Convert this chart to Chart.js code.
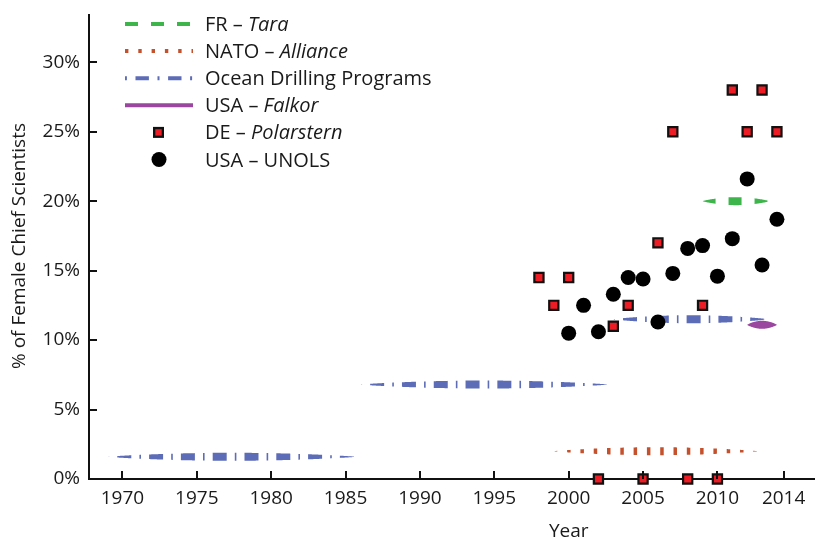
<!DOCTYPE html>
<html>
<head>
<meta charset="utf-8">
<script src="https://cdn.jsdelivr.net/npm/chart.js@4.4.1/dist/chart.umd.min.js"></script>
<style>
  html, body { margin: 0; padding: 0; background: #fff; }
  #wrap { width: 815px; height: 540px; }
</style>
</head>
<body>
<div id="wrap"><canvas id="chart"></canvas></div>
<script>
// DE – Polarstern
const polarsternYears = [1998, 1999, 2000, 2002, 2003, 2004, 2005, 2006, 2007, 2008, 2009, 2010, 2011, 2012, 2013, 2014];
const polarsternPct   = [14.5, 12.5, 14.5, 0, 11.0, 12.5, 0, 17.0, 25.0, 0, 12.5, 0, 28.0, 25.0, 28.0, 25.0];

// USA – UNOLS
const unolsYears = [2000, 2001, 2002, 2003, 2004, 2005, 2006, 2007, 2008, 2009, 2010, 2011, 2012, 2013, 2014];
const unolsPct   = [10.5, 12.5, 10.6, 13.3, 14.5, 14.4, 11.3, 14.8, 16.6, 16.8, 14.6, 17.3, 21.6, 15.4, 18.7];

// period averages: start year, end year, value
const taraStart = [2009.0], taraEnd = [2013.5], taraPct = [20.0];
const natoStart = [1999.0], natoEnd = [2012.7], natoPct = [2.0];
const odpStart = [1969.0, 1986.0, 2003.0], odpEnd = [1985.7, 2002.65, 2013.4], odpPct = [1.6, 6.8, 11.5];
const falkorStart = [2012.0], falkorEnd = [2014.0], falkorPct = [11.1];

// axes
const xTickValues = [1970, 1975, 1980, 1985, 1990, 1995, 2000, 2005, 2010, 2014.45];
const xTickLabels = ['1970', '1975', '1980', '1985', '1990', '1995', '2000', '2005', '2010', '2014'];
const yTickValues = [0, 5, 10, 15, 20, 25, 30];

const FONT = '"Open Sans"';
const TEXT = '#1a1a1a';

const toPoints = (xs, ys) => xs.map((x, i) => ({x: x, y: ys[i]}));
const toSpans = (starts, ends, ys) => {
  const pts = [];
  starts.forEach((s, i) => { pts.push({x: s, y: ys[i]}); pts.push({x: ends[i], y: ys[i]}); });
  return pts;
};

const spanSeries = [
  {label: 'FR – ', italic: 'Tara', data: toSpans(taraStart, taraEnd, taraPct),
   color: '#3db54a', dash: [13, 13], legendDash: [13, 13], offset: 0, width: 8},
  {label: 'NATO – ', italic: 'Alliance', data: toSpans(natoStart, natoEnd, natoPct),
   color: '#c5502c', dash: [3.5, 9.8], legendDash: [3.4, 9.9], offset: 0, width: 8},
  {label: 'Ocean Drilling Programs', italic: '', data: toSpans(odpStart, odpEnd, odpPct),
   color: '#5d6cb7', dash: [14, 8.1, 1.6, 8.1], legendDash: [13.4, 8.6, 2, 8.6], offset: 22.1, width: 8},
  {label: 'USA – ', italic: 'Falkor', data: toSpans(falkorStart, falkorEnd, falkorPct),
   color: '#9a479f', dash: [], legendDash: [], offset: 0, width: 8}
];

// tapered (lens shaped) dashed stroke between two pixel points on one row
function taperStroke(ctx, x0, x1, y, maxW, dash, offset, color) {
  const L = x1 - x0;
  if (L <= 0) return;
  const half = s => maxW / 2 * Math.pow(Math.sin(Math.PI * s / L), 0.8);
  const piece = (a, b) => {
    const n = Math.max(2, Math.ceil((b - a) * 2));
    ctx.beginPath();
    for (let k = 0; k <= n; k++) {
      const s = a + (b - a) * k / n;
      ctx.lineTo(x0 + s, y - half(s));
    }
    for (let k = n; k >= 0; k--) {
      const s = a + (b - a) * k / n;
      ctx.lineTo(x0 + s, y + half(s));
    }
    ctx.closePath();
    ctx.fill();
  };
  ctx.fillStyle = color;
  if (!dash.length) { piece(0, L); return; }
  let pos = -offset, i = 0;
  while (pos < L) {
    const len = dash[i % dash.length];
    if (i % 2 === 0) {
      const a = Math.max(0, pos), b = Math.min(L, pos + len);
      if (b > a) piece(a, b);
    }
    pos += len;
    i++;
  }
}

const taperPlugin = {
  id: 'taper',
  beforeDatasetsDraw(chart) {
    const ctx = chart.ctx;
    ctx.save();
    chart.data.datasets.forEach((ds, di) => {
      if (!ds.taper) return;
      const pts = chart.getDatasetMeta(di).data;
      for (let i = 0; i + 1 < pts.length; i += 2) {
        taperStroke(ctx, pts[i].x, pts[i + 1].x, pts[i].y, ds.taper.width, ds.taper.dash, ds.taper.offset, ds.taper.color);
      }
    });
    ctx.restore();
  }
};

// inward tick marks, axis titles and the legend
const decorPlugin = {
  id: 'decor',
  afterDraw(chart) {
    const ctx = chart.ctx;
    const xs = chart.scales.x, ys = chart.scales.y;
    const area = chart.chartArea;
    ctx.save();
    ctx.strokeStyle = '#111';
    ctx.lineWidth = 2;
    ctx.beginPath();
    xs.ticks.forEach(t => {
      const px = Math.round(xs.getPixelForValue(t.value));
      ctx.moveTo(px, area.bottom);
      ctx.lineTo(px, area.bottom - 8);
    });
    ys.ticks.forEach(t => {
      const py = Math.round(ys.getPixelForValue(t.value));
      ctx.moveTo(area.left, py);
      ctx.lineTo(area.left + 8, py);
    });
    ctx.stroke();

    // axis titles
    ctx.fillStyle = TEXT;
    ctx.font = `19px ${FONT}`;
    ctx.textAlign = 'center';
    ctx.textBaseline = 'alphabetic';
    ctx.fillText('Year', xs.getPixelForValue(2000), 537);
    ctx.save();
    ctx.translate(25, 246);
    ctx.rotate(-Math.PI / 2);
    ctx.fillText('% of Female Chief Scientists', 0, 0);
    ctx.restore();

    // legend
    const lx0 = 125, lx1 = 193, tx = 205, y0 = 24, dy = 27.1;
    ctx.textAlign = 'left';
    const rows = spanSeries.length + 2;
    for (let r = 0; r < rows; r++) {
      const cy = y0 + r * dy;
      let name, ital;
      if (r < spanSeries.length) {
        const s = spanSeries[r];
        name = s.label; ital = s.italic;
        ctx.strokeStyle = s.color;
        ctx.lineWidth = 4;
        ctx.setLineDash(s.legendDash);
        ctx.lineDashOffset = s.offset;
        ctx.beginPath();
        ctx.moveTo(lx0, cy);
        ctx.lineTo(lx1, cy);
        ctx.stroke();
        ctx.setLineDash([]);
      } else if (r === spanSeries.length) {
        name = 'DE – '; ital = 'Polarstern';
        ctx.fillStyle = '#111';
        ctx.fillRect(153, cy - 5.5, 11, 11);
        ctx.fillStyle = '#ee1c24';
        ctx.fillRect(155.3, cy - 3.2, 6.4, 6.4);
      } else {
        name = 'USA – UNOLS'; ital = '';
        ctx.fillStyle = '#000';
        ctx.beginPath();
        ctx.arc(159, cy, 7.5, 0, Math.PI * 2);
        ctx.fill();
      }
      ctx.fillStyle = TEXT;
      ctx.font = `20px ${FONT}`;
      const base = cy + 7;
      ctx.fillText(name, tx, base);
      if (ital) {
        const w = ctx.measureText(name).width;
        ctx.font = `italic 20px ${FONT}`;
        ctx.fillText(ital, tx + w, base);
      }
    }
    ctx.restore();
  }
};

const datasets = spanSeries.map(s => ({
  label: s.label + s.italic,
  data: s.data,
  showLine: false,
  pointRadius: 0,
  pointHoverRadius: 0,
  taper: {color: s.color, dash: s.dash, offset: s.offset, width: s.width}
}));

datasets.push({
  label: 'DE – Polarstern',
  data: toPoints(polarsternYears, polarsternPct),
  pointStyle: 'rect',
  pointRadius: 6.5,
  pointBackgroundColor: '#ee1c24',
  pointBorderColor: '#111',
  pointBorderWidth: 2.2,
  clip: false,
  order: 1
});

datasets.push({
  label: 'USA – UNOLS',
  data: toPoints(unolsYears, unolsPct),
  pointStyle: 'circle',
  pointRadius: 7.5,
  pointBackgroundColor: '#000',
  pointBorderColor: '#000',
  pointBorderWidth: 0,
  clip: false,
  order: 0
});

new Chart(document.getElementById('chart'), {
  type: 'scatter',
  data: {datasets: datasets},
  options: {
    responsive: true,
    maintainAspectRatio: false,
    animation: false,
    layout: {autoPadding: false, padding: {top: 15, right: 0, left: 0, bottom: 0}},
    plugins: {
      legend: {display: false},
      tooltip: {enabled: false}
    },
    scales: {
      x: {
        type: 'linear',
        min: 1967.75,
        max: 2016.56,
        afterBuildTicks: scale => { scale.ticks = xTickValues.map(v => ({value: v})); },
        afterFit: scale => { scale.height = 61; scale.paddingLeft = 0; scale.paddingRight = 0; },
        ticks: {
          autoSkip: false,
          maxRotation: 0,
          padding: 8,
          color: TEXT,
          font: {family: FONT, size: 19},
          callback: (v, i) => xTickLabels[i]
        },
        grid: {display: false, drawTicks: false},
        border: {display: true, color: '#111', width: 2}
      },
      y: {
        type: 'linear',
        min: 0,
        max: 33.4,
        afterBuildTicks: scale => { scale.ticks = yTickValues.map(v => ({value: v})); },
        afterFit: scale => { scale.width = 89; scale.paddingTop = 0; scale.paddingBottom = 0; },
        ticks: {
          padding: 9,
          color: TEXT,
          font: {family: FONT, size: 19},
          callback: v => v + '%'
        },
        grid: {display: false, drawTicks: false},
        border: {display: true, color: '#111', width: 2}
      }
    }
  },
  plugins: [taperPlugin, decorPlugin]
});
</script>
</body>
</html>
